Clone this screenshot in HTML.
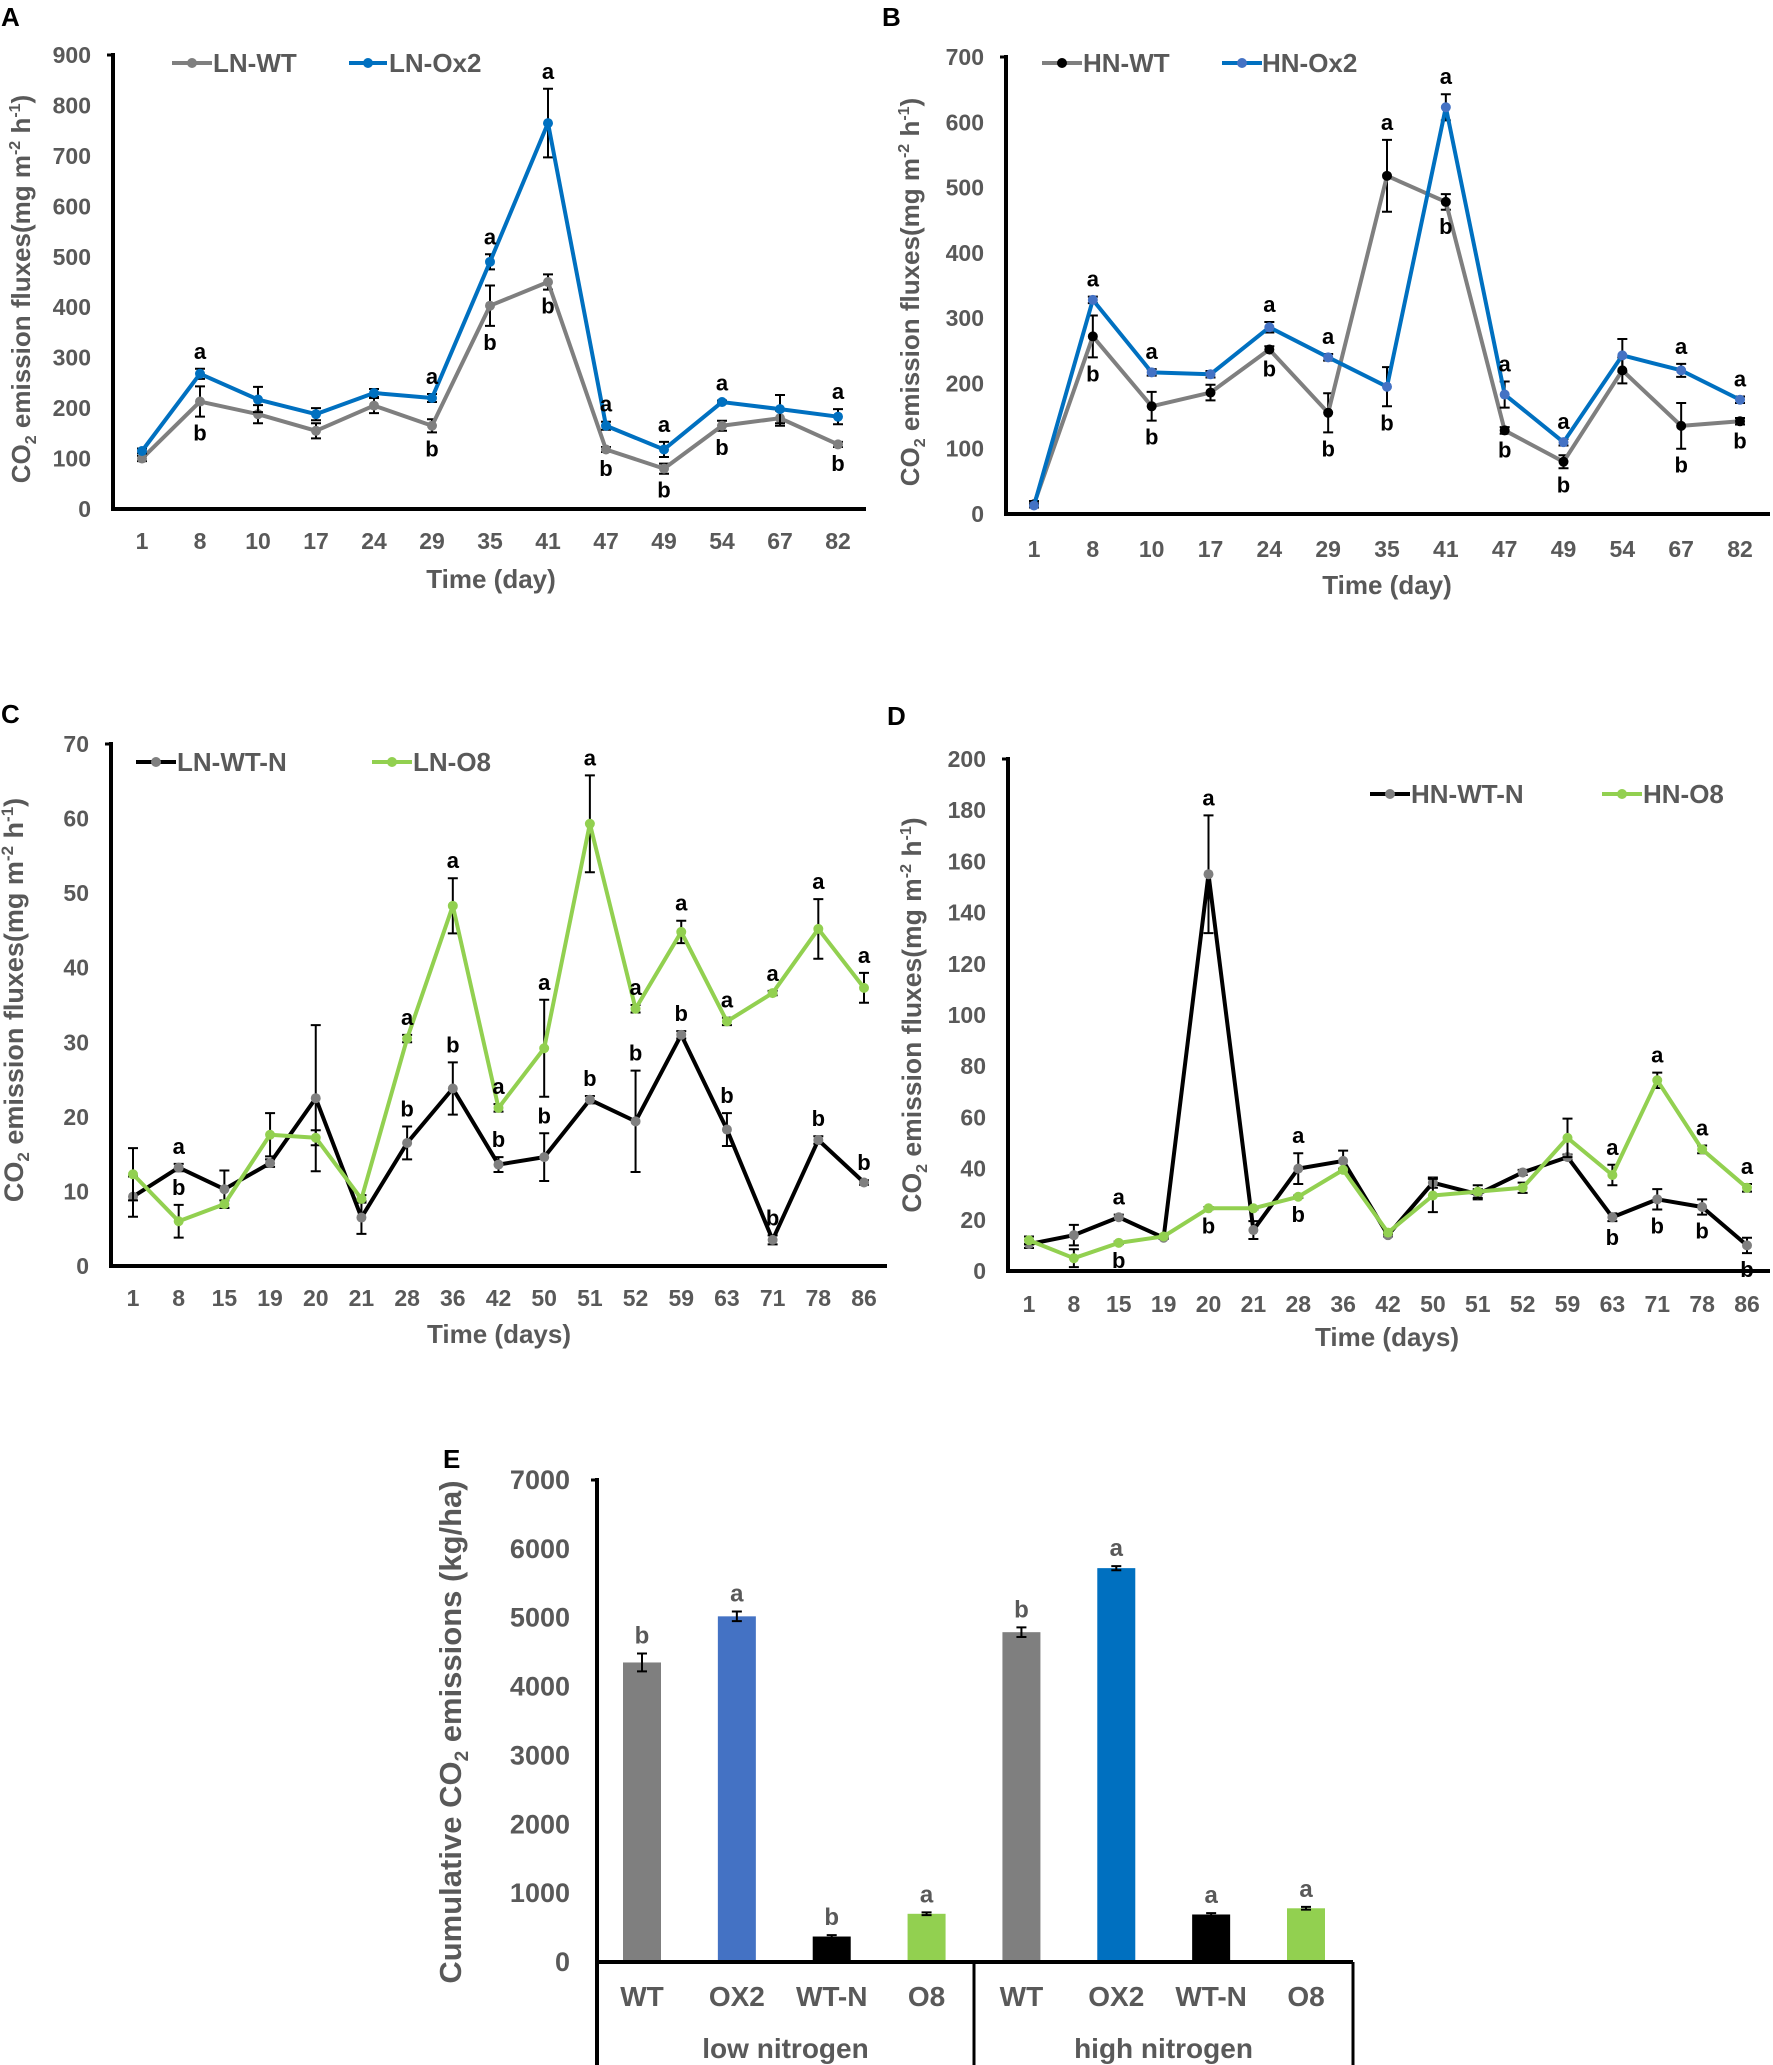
<!DOCTYPE html>
<html><head><meta charset="utf-8">
<style>
html,body{margin:0;padding:0;background:#fff;}
svg{display:block;font-family:"Liberation Sans",Arial,sans-serif;}
</style></head>
<body>
<svg id="fig" width="1773" height="2065" viewBox="0 0 1773 2065" xmlns="http://www.w3.org/2000/svg"></svg>
<script>
// ---------- Panel A data ----------
const aDays = ["1","8","10","17","24","29","35","41","47","49","54","67","82"];
const aWT = [100,213,188,155,205,165,403,450,118,80,165,180,128];
const aWTerr = [5,30,18,15,15,13,40,15,5,10,10,15,5];
const aOx2 = [115,268,217,188,230,220,490,765,165,118,212,198,183];
const aOx2err = [5,10,25,12,8,8,15,68,8,15,3,28,15];
const aTicks = [0,100,200,300,400,500,600,700,800,900];
const aLetters = [[1,"a",1,"above"],[1,"b",0,"below"],[5,"a",1,"above"],[5,"b",0,"below"],[6,"a",1,"above"],[6,"b",0,"below"],[7,"a",1,"above"],[7,"b",0,"below"],[8,"a",1,"above"],[8,"b",0,"below"],[9,"a",1,"above"],[9,"b",0,"below"],[10,"a",1,"above"],[10,"b",0,"below"],[12,"a",1,"above"],[12,"b",0,"below"]];
// ---------- Panel B data ----------
const bDays = ["1","8","10","17","24","29","35","41","47","49","54","67","82"];
const bWT = [15,272,165,186,252,155,518,478,128,80,220,135,142];
const bWTerr = [5,32,22,12,5,30,55,12,5,10,20,35,5];
const bOx2 = [13,328,217,214,286,240,195,623,183,110,243,220,175];
const bOx2err = [3,5,5,5,8,5,30,20,20,5,25,10,5];
const bTicks = [0,100,200,300,400,500,600,700];
const bLetters = [[1,"a",1,"above"],[1,"b",0,"below"],[2,"a",1,"above"],[2,"b",0,"below"],[4,"a",1,"above"],[4,"b",0,"below"],[5,"a",1,"above"],[5,"b",0,"below"],[6,"a",0,"above"],[6,"b",1,"below"],[7,"a",1,"above"],[7,"b",0,"below"],[8,"a",1,"above"],[8,"b",0,"below"],[9,"a",1,"above"],[9,"b",0,"below"],[11,"a",1,"above"],[11,"b",0,"below"],[12,"a",1,"above"],[12,"b",0,"below"]];
// ---------- Panel C data ----------
const cDays = ["1","8","15","19","20","21","28","36","42","50","51","52","59","63","71","78","86"];
const cWT = [9.3,13.2,10.3,13.8,22.5,6.5,16.5,23.8,13.6,14.6,22.3,19.4,31,18.3,3.5,16.9,11.2];
const cWTerr = [2.7,0.5,2.5,0.5,9.8,2.2,2.2,3.5,1,3.2,0.5,6.8,0.5,2.2,0.6,0.5,0.3];
const cO8 = [12.3,6,8.3,17.6,17.2,9,30.5,48.3,21.2,29.2,59.3,34.5,44.8,32.8,36.6,45.2,37.3];
const cO8err = [3.5,2.2,0.5,2.9,1,0.5,0.5,3.7,0.5,6.5,6.5,0.5,1.5,0.5,0.3,4,2];
const cTicks = [0,10,20,30,40,50,60,70];
const cLetters = [[1,"a",0,"above"],[1,"b",1,"above"],[6,"a",1,"above"],[6,"b",0,"above"],[7,"a",1,"above"],[7,"b",0,"above"],[8,"a",1,"above"],[8,"b",0,"above"],[9,"a",1,"above"],[9,"b",0,"above"],[10,"a",1,"above"],[10,"b",0,"above"],[11,"a",1,"above"],[11,"b",0,"above"],[12,"a",1,"above"],[12,"b",0,"above"],[13,"a",1,"above"],[13,"b",0,"above"],[14,"a",1,"above"],[14,"b",0,"above"],[15,"a",1,"above"],[15,"b",0,"above"],[16,"a",1,"above"],[16,"b",0,"above"]];
// ---------- Panel D data ----------
const dDays = ["1","8","15","19","20","21","28","36","42","50","51","52","59","63","71","78","86"];
const dWT = [10.5,14,21,13,155,16,40,43,14,34.5,30,38.5,44.5,21,28,25,10];
const dWTerr = [1.5,4,1,0.5,23,3.5,6,4,0.5,2,2,1,1,1.5,4,3,3];
const dO8 = [12,5,11,13.5,24.5,24.5,29,39.5,15,29.5,31,32.5,52,37.5,74.5,47.5,32.5];
const dO8err = [1.5,3.5,0.5,0.5,0.5,0.5,0.5,0.5,0.5,6.5,2.5,2,7.5,4,3,1.5,1.5];
const dTicks = [0,20,40,60,80,100,120,140,160,180,200];
const dLetters = [[2,"a",0,"above"],[2,"b",1,"below"],[4,"a",0,"above"],[4,"b",1,"below"],[6,"a",0,"above"],[6,"b",1,"below"],[13,"a",1,"above"],[13,"b",0,"below"],[14,"a",1,"above"],[14,"b",0,"below"],[15,"a",1,"above"],[15,"b",0,"below"],[16,"a",1,"above"],[16,"b",0,"below"]];
// ---------- Panel E data ----------
const eCats = ["WT","OX2","WT-N","O8","WT","OX2","WT-N","O8"];
const eGroups = ["low nitrogen","high nitrogen"];
const eVals = [4350,5020,370,700,4790,5720,690,780];
const eErr = [130,70,20,20,70,30,20,20];
const eLetters = ["b","a","b","a","b","a","a","a"];
const eTicks = [0,1000,2000,3000,4000,5000,6000,7000];

const NS = "http://www.w3.org/2000/svg";
const svg = document.getElementById("fig");
function mk(tag, attrs, parent, text){
  const e = document.createElementNS(NS, tag);
  for (const k in attrs) e.setAttribute(k, attrs[k]);
  if (text !== undefined) e.textContent = text;
  (parent||svg).appendChild(e);
  return e;
}
const GRAY = "#595959";

function yTitle(g, cx, cy, fs){
  const sub = Math.round(fs*0.62);
  const t = mk("text",{x:cx,y:cy,transform:`rotate(-90 ${cx} ${cy})`,"text-anchor":"middle","font-size":fs,"font-weight":"bold",fill:GRAY},g);
  
  
  mk("tspan",{},t,"CO");
  mk("tspan",{"font-size":sub,dy:6},t,"2");
  mk("tspan",{dy:-6},t," emission fluxes(mg m");
  mk("tspan",{"font-size":sub,dy:-10},t,"-2");
  mk("tspan",{dy:10},t," h");
  mk("tspan",{"font-size":sub,dy:-10},t,"-1");
  mk("tspan",{dy:10},t,")");
}

function lineChart(c){
  const g = mk("g",{});
  
  
  const n = c.cats.length;
  const xs = i => c.x1 + i*(c.xN - c.x1)/(n-1);
  const ys = v => c.y0 - v/c.max*(c.y0 - c.yTop);
  const lab = mk("text",{x:c.lx,y:c.ly,"font-size":26,"font-weight":"bold",fill:"#000"},g,c.label);
  
  
  const ya = mk("line",{x1:c.ax,y1:c.yTop-2,x2:c.ax,y2:c.y0+2,stroke:"#000","stroke-width":4},g);
  
  
  mk("line",{x1:c.ax-6,y1:c.yTop,x2:c.ax,y2:c.yTop,stroke:"#000","stroke-width":3},g);
  const xa = mk("line",{x1:c.ax-2,y1:c.y0,x2:c.axEnd,y2:c.y0,stroke:"#000","stroke-width":4},g);
  
  
  c.ticks.forEach(t=>{
    const e = mk("text",{x:c.ax-22,y:ys(t)+8,"text-anchor":"end","font-size":23,"font-weight":"bold",fill:GRAY},g,String(t));
    
    
  });
  c.cats.forEach((d,i)=>{
    const e = mk("text",{x:xs(i),y:c.tickY+8,"text-anchor":"middle","font-size":23,"font-weight":"bold",fill:GRAY},g,d);
    
    
  });
  const xt = mk("text",{x:c.titleX,y:c.titleY+9,"text-anchor":"middle","font-size":26,"font-weight":"bold",fill:GRAY},g,c.xTitle);
  
  
  yTitle(g, c.ytX, c.ytY, c.ytFs);
  c.series.forEach((s,si)=>{
    const sg = mk("g",{},g);
    
    
    s.err.forEach((e,i)=>{
      const x = xs(i), y1 = ys(s.vals[i]+e), y2 = ys(Math.max(0,s.vals[i]-e));
      const eb = mk("path",{d:`M${x},${y1}V${y2}M${x-5},${y1}H${x+5}M${x-5},${y2}H${x+5}`,stroke:"#000","stroke-width":2,fill:"none"},sg);
      
      
    });
    const pts = s.vals.map((v,i)=>xs(i)+","+ys(v)).join(" ");
    const pl = mk("polyline",{points:pts,fill:"none",stroke:s.line,"stroke-width":4,"stroke-linejoin":"round"},sg);
    
    
    s.vals.forEach((v,i)=>{
      const p = mk("circle",{cx:xs(i),cy:ys(v),r:5,fill:s.marker},sg);
      
      
    });
  });
  c.letters.forEach(L=>{
    const s = c.series[L[2]], i = L[0];
    const y = L[3]==="above" ? ys(s.vals[i]+s.err[i]) - 10 : ys(Math.max(0,s.vals[i]-s.err[i])) + 24;
    const e = mk("text",{x:xs(i),y:y,"text-anchor":"middle","font-size":22,"font-weight":"bold",fill:"#000"},g,L[1]);
    
    
  });
  c.series.forEach((s,si)=>{
    const lg = mk("g",{},g);
    
    
    const [lx0,lx1,tx] = c.legend[si];
    mk("line",{x1:lx0,y1:c.legY,x2:lx1,y2:c.legY,stroke:s.line,"stroke-width":4},lg);
    mk("circle",{cx:(lx0+lx1)/2,cy:c.legY,r:5,fill:s.marker},lg);
    mk("text",{x:tx,y:c.legY+9,"font-size":26,"font-weight":"bold",fill:GRAY},lg,s.key);
  });
}

lineChart({name:"panel-a-chart",label:"A",lx:1,ly:26,cats:aDays,ticks:aTicks,max:900,ax:113,axEnd:866,x1:142,xN:838,yTop:55,y0:509,tickY:541,titleX:491,titleY:579,xTitle:"Time (day)",ytX:30,ytY:289,ytFs:26,legY:63,
  legend:[[172,212,213],[349,387,389]],
  series:[{key:"LN-WT",vals:aWT,err:aWTerr,line:"#7f7f7f",marker:"#7f7f7f"},{key:"LN-Ox2",vals:aOx2,err:aOx2err,line:"#0070c0",marker:"#0070c0"}],letters:aLetters});
lineChart({name:"panel-b-chart",label:"B",lx:882,ly:26,cats:bDays,ticks:bTicks,max:700,ax:1006,axEnd:1770,x1:1034,xN:1740,yTop:57,y0:514,tickY:549,titleX:1387,titleY:585,xTitle:"Time (day)",ytX:919,ytY:292,ytFs:26,legY:63,
  legend:[[1042,1082,1083],[1222,1262,1262]],
  series:[{key:"HN-WT",vals:bWT,err:bWTerr,line:"#7f7f7f",marker:"#000"},{key:"HN-Ox2",vals:bOx2,err:bOx2err,line:"#0070c0",marker:"#4472c4"}],letters:bLetters});
lineChart({name:"panel-c-chart",label:"C",lx:1,ly:723,cats:cDays,ticks:cTicks,max:70,ax:111,axEnd:887,x1:133,xN:864,yTop:744,y0:1266,tickY:1298,titleX:499,titleY:1334,xTitle:"Time (days)",ytX:23,ytY:1000,ytFs:27,legY:762,
  legend:[[136,176,177],[372,412,413]],
  series:[{key:"LN-WT-N",vals:cWT,err:cWTerr,line:"#000",marker:"#7f7f7f"},{key:"LN-O8",vals:cO8,err:cO8err,line:"#92d050",marker:"#92d050"}],letters:cLetters});
lineChart({name:"panel-d-chart",label:"D",lx:887,ly:725,cats:dDays,ticks:dTicks,max:200,ax:1008,axEnd:1770,x1:1029,xN:1747,yTop:759,y0:1271,tickY:1304,titleX:1387,titleY:1337,xTitle:"Time (days)",ytX:921,ytY:1015,ytFs:26.5,legY:794,
  legend:[[1370,1410,1411],[1602,1642,1643]],
  series:[{key:"HN-WT-N",vals:dWT,err:dWTerr,line:"#000",marker:"#7f7f7f"},{key:"HN-O8",vals:dO8,err:dO8err,line:"#92d050",marker:"#92d050"}],letters:dLetters});

// ---------- Panel E ----------
(function(){
  const g = mk("g",{});
  
  
  const ax=597, axEnd=1353, yTop=1480, y0=1962, max=7000;
  const ys = v => y0 - v/max*(y0-yTop);
  const x0 = 642, step = (1306-642)/7;
  const xs = i => x0 + i*step;
  const colors = ["#7f7f7f","#4472c4","#000","#92d050","#7f7f7f","#0070c0","#000","#92d050"];
  const lab = mk("text",{x:443,y:1468,"font-size":26,"font-weight":"bold",fill:"#000"},g,"E");
  
  
  eTicks.forEach(t=>{
    const e = mk("text",{x:ax-27,y:ys(t)+9,"text-anchor":"end","font-size":27,"font-weight":"bold",fill:GRAY},g,String(t));
    
    
  });
  eVals.forEach((v,i)=>{
    const b = mk("rect",{x:xs(i)-19,y:ys(v),width:38,height:y0-ys(v),fill:colors[i]},g);
    
    
    const x=xs(i), y1=ys(v+eErr[i]), y2=ys(v-eErr[i]);
    const eb = mk("path",{d:`M${x},${y1}V${y2}M${x-5},${y1}H${x+5}M${x-5},${y2}H${x+5}`,stroke:"#000","stroke-width":2,fill:"none"},g);
    
    
    const l = mk("text",{x:x,y:y1-10,"text-anchor":"middle","font-size":24,"font-weight":"bold",fill:GRAY},g,eLetters[i]);
    
    
    const c = mk("text",{x:x,y:1996+10,"text-anchor":"middle","font-size":28,"font-weight":"bold",fill:GRAY},g,eCats[i]);
    
    
  });
  const ya = mk("line",{x1:ax,y1:yTop-2,x2:ax,y2:2065,stroke:"#000","stroke-width":4},g);
  
  
  mk("line",{x1:ax-6,y1:yTop,x2:ax,y2:yTop,stroke:"#000","stroke-width":3},g);
  const xa = mk("line",{x1:ax,y1:y0,x2:axEnd,y2:y0,stroke:"#000","stroke-width":4},g);
  
  
  [974,axEnd].forEach(x=>{
    const s = mk("line",{x1:x,y1:y0,x2:x,y2:2065,stroke:"#000","stroke-width":3},g);
    
    
  });
  eGroups.forEach((gname,k)=>{
    const cx = k===0 ? (ax+974)/2 : (974+axEnd)/2;
    const e = mk("text",{x:cx,y:2048+10,"text-anchor":"middle","font-size":28,"font-weight":"bold",fill:GRAY},g,gname);
    
    
  });
  const cx=461, cy=1732;
  const t = mk("text",{x:cx,y:cy,transform:`rotate(-90 ${cx} ${cy})`,"text-anchor":"middle","font-size":31,"font-weight":"bold",fill:GRAY},g);
  
  
  mk("tspan",{},t,"Cumulative CO");
  mk("tspan",{"font-size":19,dy:7},t,"2");
  mk("tspan",{dy:-7},t," emissions (kg/ha)");
})();
</script>
</body></html>
